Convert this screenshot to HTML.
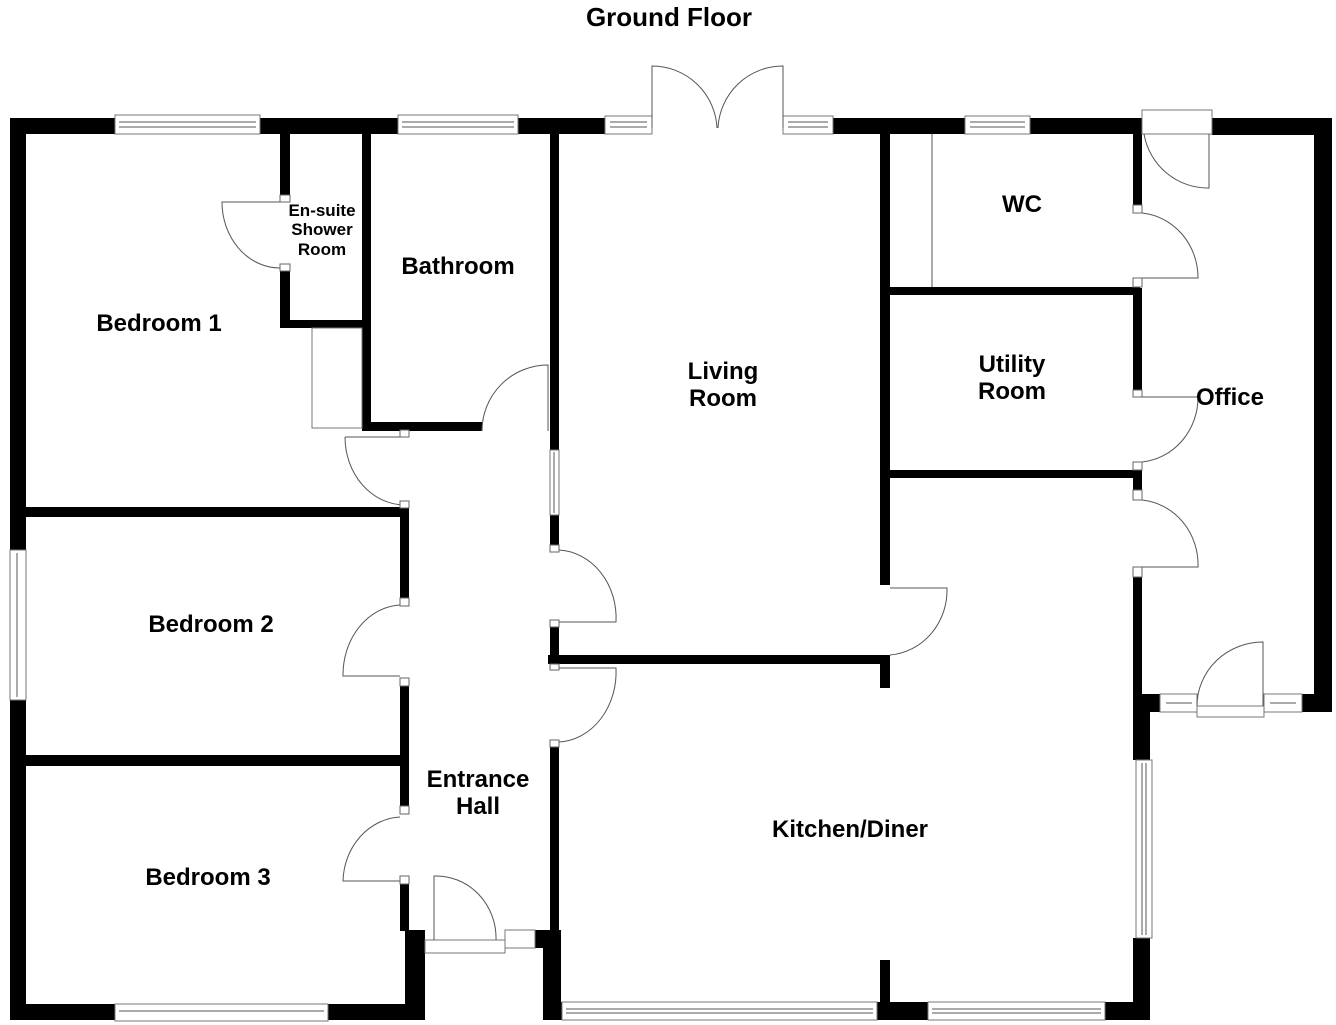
<!DOCTYPE html>
<html><head><meta charset="utf-8"><style>
body{margin:0;background:#fff}
svg{display:block}
text{font-family:"Liberation Sans",Arial,sans-serif;font-weight:bold;fill:#000;text-anchor:middle}
.d{fill:none;stroke:#555;stroke-width:1}
.w{fill:#fff;stroke:#777;stroke-width:1}
</style></head><body>
<svg width="1336" height="1025" viewBox="0 0 1336 1025" xmlns="http://www.w3.org/2000/svg">
<text x="669" y="26" font-size="26">Ground Floor</text>
<g fill="#000">
<rect x="10" y="118" width="105" height="16"/>
<rect x="260" y="118" width="138" height="16"/>
<rect x="518" y="118" width="87" height="16"/>
<rect x="833" y="118" width="132" height="16"/>
<rect x="1030" y="118" width="113" height="16"/>
<rect x="1212" y="118" width="120" height="17"/>
<rect x="10" y="118" width="16" height="432"/>
<rect x="10" y="700" width="16" height="320"/>
<rect x="1314" y="118" width="18" height="594"/>
<rect x="1133" y="694" width="27" height="18"/>
<rect x="1302" y="694" width="30" height="18"/>
<rect x="10" y="1004" width="105" height="16"/>
<rect x="328" y="1004" width="97" height="16"/>
<rect x="405" y="930" width="20" height="90"/>
<rect x="535" y="930" width="23" height="18"/>
<rect x="543" y="930" width="18" height="90"/>
<rect x="543" y="1002" width="19" height="18"/>
<rect x="877" y="1002" width="51" height="18"/>
<rect x="1105" y="1002" width="45" height="18"/>
<rect x="880" y="960" width="10" height="44"/>
<rect x="1133" y="577" width="9" height="183"/>
<rect x="1133" y="694" width="17" height="66"/>
<rect x="1133" y="938" width="17" height="82"/>
<rect x="1133" y="134" width="9" height="71"/>
<rect x="1133" y="288" width="9" height="102"/>
<rect x="1133" y="470" width="9" height="20"/>
<rect x="890" y="287" width="250" height="8"/>
<rect x="890" y="470" width="250" height="8"/>
<rect x="880" y="134" width="10" height="451"/>
<rect x="548" y="655" width="342" height="9"/>
<rect x="880" y="655" width="10" height="33"/>
<rect x="550" y="134" width="9" height="316"/>
<rect x="550" y="515" width="9" height="35"/>
<rect x="550" y="625" width="9" height="43"/>
<rect x="550" y="742" width="9" height="190"/>
<rect x="400" y="507" width="9" height="97"/>
<rect x="400" y="686" width="9" height="120"/>
<rect x="400" y="881" width="9" height="50"/>
<rect x="26" y="507" width="380" height="10"/>
<rect x="26" y="755" width="380" height="11"/>
<rect x="280" y="134" width="10" height="61"/>
<rect x="280" y="270" width="10" height="58"/>
<rect x="280" y="320" width="90" height="8"/>
<rect x="362" y="134" width="9" height="297"/>
<rect x="362" y="422" width="120" height="9"/>
</g>
<g>
<rect class="w" x="115" y="115" width="145" height="19"/><line class="d" x1="119" y1="122" x2="256" y2="122"/><line class="d" x1="119" y1="127" x2="256" y2="127"/>
<rect class="w" x="398" y="115" width="120" height="19"/><line class="d" x1="402" y1="122" x2="514" y2="122"/><line class="d" x1="402" y1="127" x2="514" y2="127"/>
<rect class="w" x="605" y="116" width="47" height="18"/><line class="d" x1="610" y1="122" x2="647" y2="122"/><line class="d" x1="610" y1="127" x2="647" y2="127"/>
<rect class="w" x="783" y="116" width="50" height="18"/><line class="d" x1="788" y1="122" x2="828" y2="122"/><line class="d" x1="788" y1="127" x2="828" y2="127"/>
<rect class="w" x="965" y="116" width="65" height="18"/><line class="d" x1="970" y1="122" x2="1025" y2="122"/><line class="d" x1="970" y1="127" x2="1025" y2="127"/>
<rect class="w" x="10" y="550" width="16" height="150"/><line class="d" x1="17" y1="553" x2="17" y2="697"/>
<rect class="w" x="115" y="1004" width="213" height="17"/><line class="d" x1="119" y1="1011" x2="324" y2="1011"/>
<rect class="w" x="562" y="1002" width="315" height="18"/><line class="d" x1="566" y1="1009" x2="873" y2="1009"/><line class="d" x1="566" y1="1013" x2="873" y2="1013"/>
<rect class="w" x="928" y="1002" width="177" height="18"/><line class="d" x1="932" y1="1009" x2="1101" y2="1009"/><line class="d" x1="932" y1="1013" x2="1101" y2="1013"/>
<rect class="w" x="1136" y="760" width="16" height="178"/><line class="d" x1="1142" y1="763" x2="1142" y2="935"/><line class="d" x1="1146" y1="763" x2="1146" y2="935"/>
<rect class="w" x="550" y="450" width="9" height="65"/><line class="d" x1="554" y1="452" x2="554" y2="513"/>
<rect class="w" x="1160" y="694" width="37" height="18"/><line class="d" x1="1166" y1="703" x2="1192" y2="703"/>
<rect class="w" x="1264" y="694" width="38" height="18"/><line class="d" x1="1270" y1="703" x2="1296" y2="703"/>
<rect class="w" x="1197" y="706" width="67" height="11"/>
<rect class="w" x="505" y="930" width="30" height="18"/>
<rect class="w" x="425" y="940" width="80" height="13"/>
<rect class="w" x="1142" y="110" width="70" height="24"/>
</g>
<line class="d" x1="932" y1="134" x2="932" y2="287"/>
<rect class="w" x="312" y="328" width="50" height="100"/>
<g class="d">
<path d="M652 128 V66 A65 65 0 0 1 717 128"/>
<path d="M783 128 V66 A65 65 0 0 0 718 128"/>
<path d="M1144 134 A65 65 0 0 0 1209 188 V134"/>
<path d="M1142 213 A62 65 0 0 1 1198 278 H1142"/>
<path d="M1142 397 H1198 A62 65 0 0 1 1142 462"/>
<path d="M1142 500 A62 65 0 0 1 1198 567 H1142"/>
<path d="M1197 706 A66 64 0 0 1 1263 642 V706"/>
<path d="M890 588 H947 A62 65 0 0 1 890 655"/>
<path d="M559 550 A60 68 0 0 1 616 622 H559"/>
<path d="M559 668 H616 A60 70 0 0 1 559 742"/>
<path d="M400 605 A60 70 0 0 0 343 676 H400"/>
<path d="M400 817 A60 66 0 0 0 343 881 H400"/>
<path d="M434 940 V876 A60 62 0 0 1 496 940"/>
<path d="M345 437 H400 M345 437 A60 68 0 0 0 405 505"/>
<path d="M482 431 A66 66 0 0 1 548 365 V431"/>
<path d="M280 202 H222 A58 66 0 0 0 280 268"/>
</g>
<g fill="#fff" stroke="#666" stroke-width="1">
<rect x="280" y="195" width="10" height="7"/><rect x="280" y="264" width="10" height="7"/>
<rect x="400" y="430" width="9" height="7"/><rect x="400" y="501" width="9" height="7"/>
<rect x="1133" y="205" width="9" height="8"/><rect x="1133" y="278" width="9" height="9"/>
<rect x="1133" y="390" width="9" height="7"/><rect x="1133" y="462" width="9" height="8"/>
<rect x="1133" y="490" width="9" height="10"/><rect x="1133" y="567" width="9" height="10"/>
<rect x="550" y="545" width="9" height="7"/><rect x="550" y="620" width="9" height="7"/>
<rect x="550" y="664" width="9" height="6"/><rect x="550" y="740" width="9" height="7"/>
<rect x="400" y="598" width="9" height="8"/><rect x="400" y="678" width="9" height="8"/>
<rect x="400" y="806" width="9" height="8"/><rect x="400" y="876" width="9" height="8"/>
</g>
<text x="159" y="331" font-size="24">Bedroom 1</text>
<text x="458" y="274" font-size="24">Bathroom</text>
<text x="322" y="216" font-size="17">En-suite</text>
<text x="322" y="235" font-size="17">Shower</text>
<text x="322" y="255" font-size="17">Room</text>
<text x="723" y="379" font-size="24">Living</text>
<text x="723" y="406" font-size="24">Room</text>
<text x="1022" y="212" font-size="24">WC</text>
<text x="1012" y="372" font-size="24">Utility</text>
<text x="1012" y="399" font-size="24">Room</text>
<text x="1230" y="405" font-size="24">Office</text>
<text x="211" y="632" font-size="24">Bedroom 2</text>
<text x="208" y="885" font-size="24">Bedroom 3</text>
<text x="478" y="787" font-size="24">Entrance</text>
<text x="478" y="814" font-size="24">Hall</text>
<text x="850" y="837" font-size="24">Kitchen/Diner</text>
</svg>
</body></html>
